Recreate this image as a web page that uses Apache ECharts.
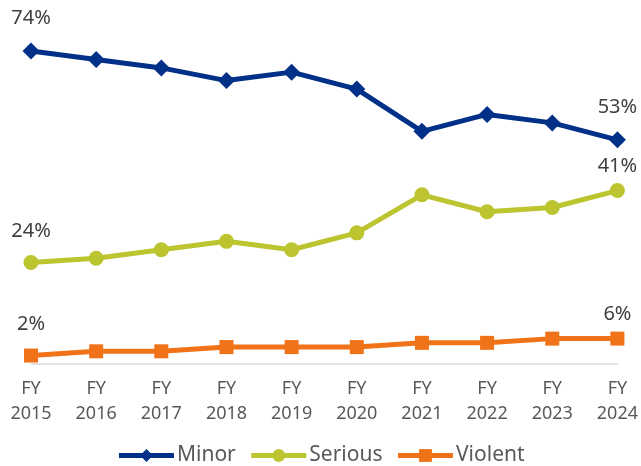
<!DOCTYPE html>
<html><head><meta charset="utf-8">
<script src="https://cdn.jsdelivr.net/npm/echarts@6/dist/echarts.min.js"></script>
<style>html,body{margin:0;padding:0;background:#fff}#c{width:641px;height:466px}</style>
</head><body><div id="c"></div>
<script>
const categories = ['FY\n2015','FY\n2016','FY\n2017','FY\n2018','FY\n2019','FY\n2020','FY\n2021','FY\n2022','FY\n2023','FY\n2024'];
const minor   = [74, 72, 70, 67, 69, 65, 55, 59, 57, 53];
const serious = [24, 25, 27, 29, 27, 31, 40, 36, 37, 41];
const violent = [2, 3, 3, 4, 4, 4, 5, 5, 6, 6];
const labelDist = {Minor:[14,14], Serious:[14,7], Violent:[14,7]};

function items(name, arr){
  return arr.map((v,i)=>{
    if(i===0 || i===arr.length-1){
      return {value:v, label:{show:true, distance: labelDist[name][i===0?0:1]}};
    }
    return v;
  });
}
const chart = echarts.init(document.getElementById('c'));
const font = 'Noto Sans';
function ser(name, arr, color, symbol, size){
  return {
    name, type:'line', data: items(name, arr), color,
    symbol, symbolSize:size, lineStyle:{width:5, color}, itemStyle:{color},
    label:{show:false, position:'top', formatter:'{c}%', fontFamily:font, fontSize:20, color:'#404040'},
    emphasis:{disabled:true}, animation:false
  };
}
chart.setOption({
  animation:false,
  grid:{left:31, right:23, top:25.6, bottom:102, containLabel:false},
  legend:{
    bottom:-5, left:'center', itemWidth:55, itemHeight:16, itemGap:13,
    lineStyle:{width:5},
    textStyle:{fontFamily:font, fontSize:21, color:'#595959', padding:[0,0,0,-2]},
    data:['Minor','Serious','Violent']
  },
  xAxis:{
    type:'category', data:categories, boundaryGap:false,
    axisLine:{lineStyle:{color:'#d9d9d9', width:1.5}},
    axisTick:{show:false},
    axisLabel:{fontFamily:font, fontSize:18, color:'#595959', lineHeight:25, margin:12, interval:0}
  },
  yAxis:{type:'value', min:0, max:80, show:false, splitLine:{show:false}},
  series:[
    ser('Minor', minor, '#003087', 'diamond', 17),
    ser('Serious', serious, '#BCC42F', 'circle', 15),
    ser('Violent', violent, '#F0731A', 'rect', 14)
  ]
});
</script></body></html>
